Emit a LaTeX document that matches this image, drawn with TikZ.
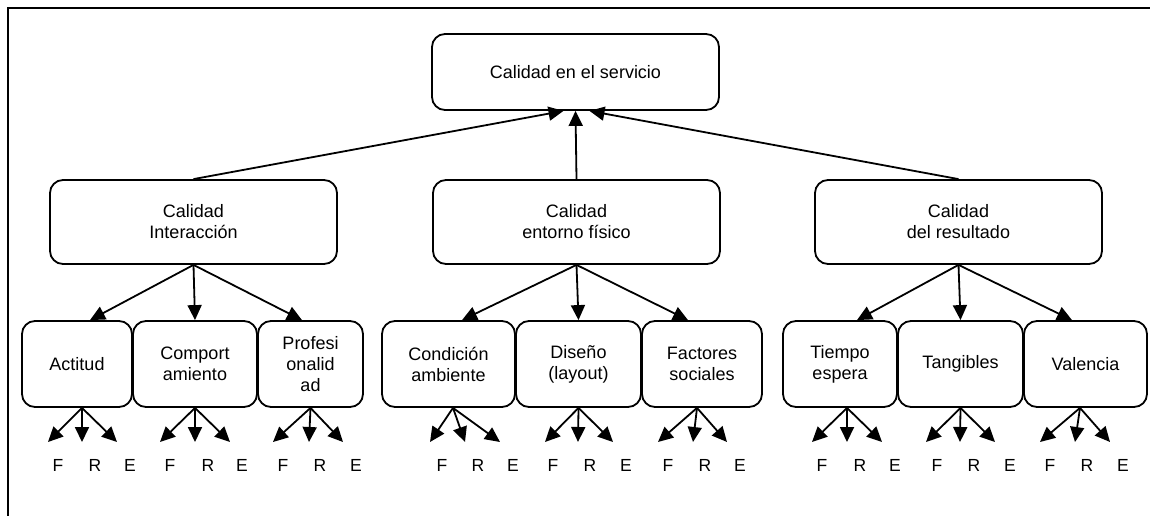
\documentclass[tikz,border=0pt]{standalone}
\usepackage{fontspec}
\setmainfont{Liberation Sans}
\usetikzlibrary{arrows.meta}
\tikzset{
  box/.style={draw, line width=1.8pt, rounded corners=13pt, align=center, inner sep=0pt,
    font=\fontsize{18}{21}\selectfont},
  arr/.style={line width=1.8pt, -{Triangle[length=15pt,width=14pt]}},
  lbl/.style={font=\fontsize{17.5}{20}\selectfont, inner sep=0pt},
  frame/.style={line width=1.6pt}
}
\newcommand\fregroup[9]{%
  \coordinate (#9a) at (#3,442);
  \coordinate (#9b) at (#4,442);
  \coordinate (#9c) at (#5,442);
  \draw[arr] ([xshift=#2pt]#1.south) -- (#9a);
  \draw[arr] ([xshift=#2pt]#1.south) -- (#9b);
  \draw[arr] ([xshift=#2pt]#1.south) -- (#9c);
  \node[lbl] (#9F) at (#6,465) {F};
  \node[lbl] (#9R) at (#7,465) {R};
  \node[lbl] (#9E) at (#8,465) {E};
}
\begin{document}
\begin{tikzpicture}[x=1pt,y=-1pt]
\useasboundingbox (0,0) rectangle (1150,516);
\draw[frame] (8,516) -- (8,8) -- (1150,8);

% top
\node[box, minimum width=287pt, minimum height=76pt] (top) at (575.5,72) {Calidad en el servicio};

% level 2
\node[box, minimum width=287pt, minimum height=84pt] (ci) at (193.5,222) {Calidad\\Interacción};
\node[box, minimum width=287pt, minimum height=84pt] (ce) at (576.5,222) {Calidad\\entorno físico};
\node[box, minimum width=287pt, minimum height=84pt] (cr) at (958.5,222) {Calidad\\del resultado};

\draw[arr] (ci.north) -- ([xshift=-12pt]top.south);
\draw[arr] (ce.north) -- (top.south);
\draw[arr] (cr.north) -- ([xshift=14pt]top.south);

% level 3
\node[box, minimum width=110pt, minimum height=86pt] (act) at (77,364) {Actitud};
\node[box, minimum width=124pt, minimum height=86pt] (com) at (195,364) {Comport\\amiento};
\node[box, minimum width=105pt, minimum height=86pt] (pro) at (310.5,364) {Profesi\\onalid\\ad};

\node[box, minimum width=133pt, minimum height=86pt] (con) at (448.5,364) {Condición\\ambiente};
\node[box, minimum width=125pt, minimum height=86pt] (dis) at (578.5,364) {Diseño\\(layout)};
\node[box, minimum width=120pt, minimum height=86pt] (fac) at (702,364) {Factores\\sociales};

\node[box, minimum width=114pt, minimum height=86pt] (tie) at (840,364) {Tiempo\\espera};
\node[box, minimum width=125pt, minimum height=86pt] (tan) at (960.5,364) {Tangibles};
\node[box, minimum width=123pt, minimum height=86pt] (val) at (1085.5,364) {Valencia};

\draw[arr] (ci.south) -- ([xshift=13pt]act.north);
\draw[arr] (ci.south) -- (com.north);
\draw[arr] (ci.south) -- ([xshift=-8.5pt]pro.north);

\draw[arr] (ce.south) -- ([xshift=13.5pt]con.north);
\draw[arr] (ce.south) -- (dis.north);
\draw[arr] (ce.south) -- ([xshift=-14pt]fac.north);

\draw[arr] (cr.south) -- ([xshift=17pt]tie.north);
\draw[arr] (cr.south) -- (tan.north);
\draw[arr] (cr.south) -- ([xshift=-13.5pt]val.north);

% F R E
\fregroup{act}{5}{48}{82}{117}{58}{95}{130}{g1}
\fregroup{com}{0}{160}{195}{230}{170}{208}{242}{g2}
\fregroup{pro}{0}{273}{309}{343}{283}{320}{356}{g3}
\fregroup{con}{4.5}{430}{465}{500}{442}{478}{513}{g4}
\fregroup{dis}{0}{545}{578}{613}{553}{590}{626}{g5}
\fregroup{fac}{-5}{658}{693}{727}{668}{705}{740}{g6}
\fregroup{tie}{7}{812}{847}{882}{822}{860}{895}{g7}
\fregroup{tan}{0}{926}{960}{995}{937}{974}{1010}{g8}
\fregroup{val}{-5.5}{1040}{1075}{1110}{1050}{1087}{1123}{g9}
\end{tikzpicture}
\end{document}
